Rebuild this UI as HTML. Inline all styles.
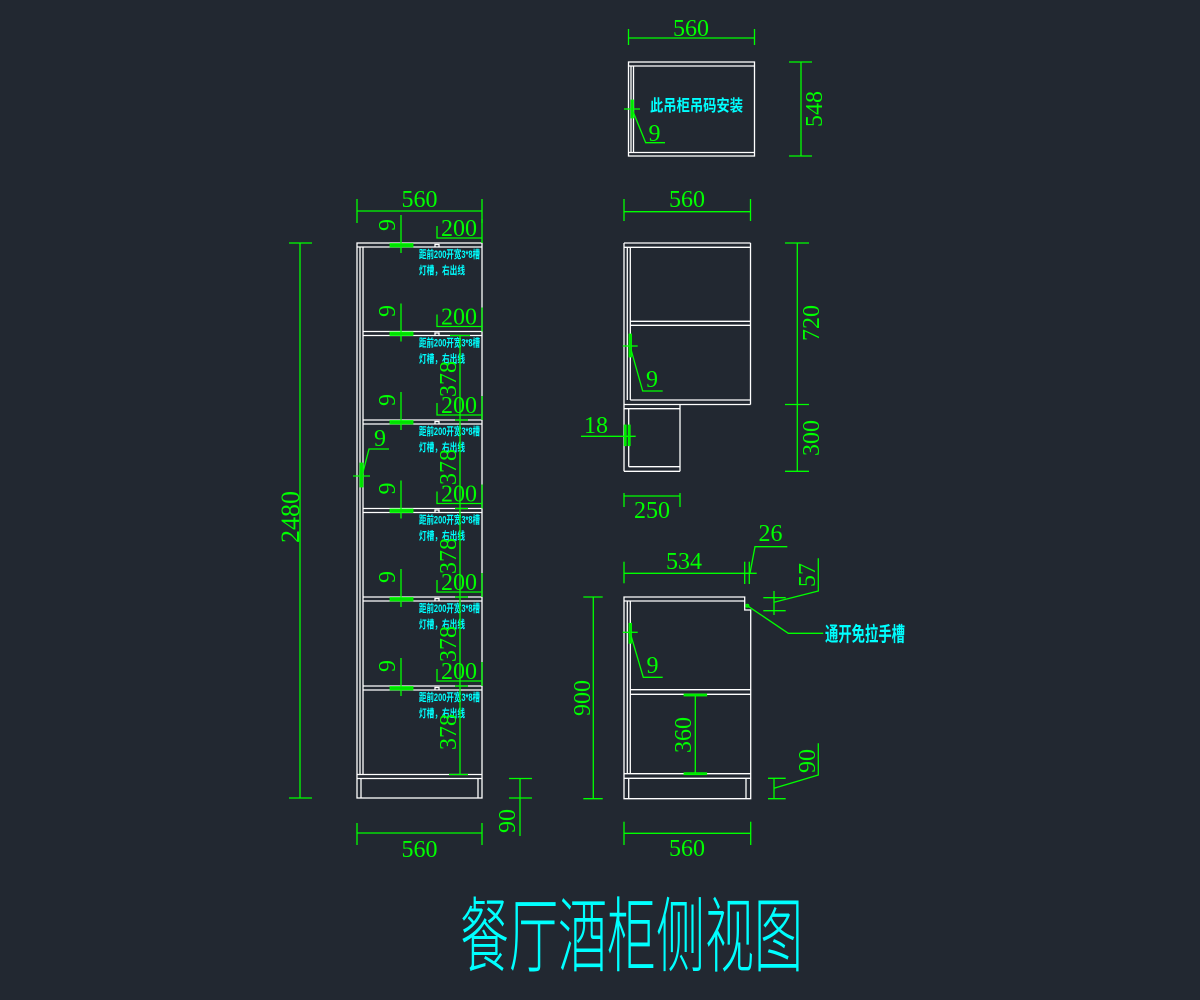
<!DOCTYPE html>
<html><head><meta charset="utf-8"><style>
html,body{margin:0;padding:0;background:#222831;}
svg{display:block;}
.w{stroke:#ffffff;stroke-width:1.3;fill:none;}
.g{stroke:#00ff00;stroke-width:1.3;fill:none;}
.gf{fill:#00e000;stroke:#00ff00;stroke-width:0.8;}
.t{font-family:"Liberation Serif",serif;font-size:24px;fill:#00ff00;}
.c{font-family:"Liberation Sans","Noto Sans CJK SC",sans-serif;font-weight:bold;fill:#00ffff;}
</style></head><body>
<svg width="1200" height="1000" viewBox="0 0 1200 1000" xmlns="http://www.w3.org/2000/svg">
<rect width="1200" height="1000" fill="#222831"/>

<!-- ============ LEFT TALL CABINET ============ -->
<g class="w">
<rect x="357" y="243" width="125" height="555"/>
<line x1="357" y1="247" x2="482" y2="247"/>
<line x1="360" y1="247" x2="360" y2="774.5"/>
<line x1="363" y1="247" x2="363" y2="774.5"/>
<line x1="363" y1="331.5" x2="482" y2="331.5"/><line x1="363" y1="335.5" x2="482" y2="335.5"/>
<line x1="363" y1="420" x2="482" y2="420"/><line x1="363" y1="424" x2="482" y2="424"/>
<line x1="363" y1="508.5" x2="482" y2="508.5"/><line x1="363" y1="512.5" x2="482" y2="512.5"/>
<line x1="363" y1="597" x2="482" y2="597"/><line x1="363" y1="601" x2="482" y2="601"/>
<line x1="363" y1="686" x2="482" y2="686"/><line x1="363" y1="690" x2="482" y2="690"/>
<line x1="357" y1="774.5" x2="482" y2="774.5"/><line x1="357" y1="778.5" x2="482" y2="778.5"/>
<line x1="361" y1="778.5" x2="361" y2="798"/><line x1="478" y1="778.5" x2="478" y2="798"/>
<path d="M435 247 v-2.5 h4 v2.5"/>
<path d="M435 335.5 v-2.5 h4 v2.5"/>
<path d="M435 424 v-2.5 h4 v2.5"/>
<path d="M435 512.5 v-2.5 h4 v2.5"/>
<path d="M435 601 v-2.5 h4 v2.5"/>
<path d="M435 690 v-2.5 h4 v2.5"/>
</g>

<!-- annotations in cabinet -->
<g class="c" font-size="11">
<text x="419" y="258" textLength="61" lengthAdjust="spacingAndGlyphs">距前200开宽3*8槽</text>
<text x="419" y="274" textLength="46" lengthAdjust="spacingAndGlyphs">灯槽，右出线</text>
<text x="419" y="346.5" textLength="61" lengthAdjust="spacingAndGlyphs">距前200开宽3*8槽</text>
<text x="419" y="362.5" textLength="46" lengthAdjust="spacingAndGlyphs">灯槽，右出线</text>
<text x="419" y="435" textLength="61" lengthAdjust="spacingAndGlyphs">距前200开宽3*8槽</text>
<text x="419" y="451" textLength="46" lengthAdjust="spacingAndGlyphs">灯槽，右出线</text>
<text x="419" y="523.5" textLength="61" lengthAdjust="spacingAndGlyphs">距前200开宽3*8槽</text>
<text x="419" y="539.5" textLength="46" lengthAdjust="spacingAndGlyphs">灯槽，右出线</text>
<text x="419" y="612" textLength="61" lengthAdjust="spacingAndGlyphs">距前200开宽3*8槽</text>
<text x="419" y="628" textLength="46" lengthAdjust="spacingAndGlyphs">灯槽，右出线</text>
<text x="419" y="701" textLength="61" lengthAdjust="spacingAndGlyphs">距前200开宽3*8槽</text>
<text x="419" y="717" textLength="46" lengthAdjust="spacingAndGlyphs">灯槽，右出线</text>
</g>

<!-- left green dims -->
<g class="g">
<line x1="357" y1="211" x2="482" y2="211"/>
<line x1="357" y1="199" x2="357" y2="223"/><line x1="482" y1="199" x2="482" y2="223"/>
<!-- 9 verticals -->
<line x1="401" y1="215" x2="401" y2="253"/>
<line x1="401" y1="303.5" x2="401" y2="341.5"/>
<line x1="401" y1="392" x2="401" y2="430"/>
<line x1="401" y1="480.5" x2="401" y2="518.5"/>
<line x1="401" y1="569" x2="401" y2="607"/>
<line x1="401" y1="658" x2="401" y2="696"/>
<!-- 200 brackets -->
<path d="M437 226 V238 H482 M482 219 V243"/>
<path d="M437 314.5 V326.5 H482 M482 307.5 V331.5"/>
<path d="M437 403 V415 H482 M482 396 V420"/>
<path d="M437 491.5 V503.5 H482 M482 484.5 V508.5"/>
<path d="M437 580 V592 H482 M482 573 V597"/>
<path d="M437 669 V681 H482 M482 662 V686"/>
<!-- 378 -->
<line x1="460" y1="335.5" x2="460" y2="774.5"/>
<line x1="450" y1="335.5" x2="470" y2="335.5"/>
<line x1="455" y1="420" x2="468" y2="420"/>
<line x1="455" y1="508.5" x2="468" y2="508.5"/>
<line x1="455" y1="597" x2="468" y2="597"/>
<line x1="455" y1="686" x2="468" y2="686"/>
<line x1="449" y1="774.5" x2="468" y2="774.5"/>
<!-- 2480 -->
<line x1="300" y1="243" x2="300" y2="798"/>
<line x1="289" y1="243" x2="312" y2="243"/><line x1="289" y1="798" x2="312" y2="798"/>
<!-- 90 -->
<line x1="520" y1="778.5" x2="520" y2="836"/>
<line x1="509" y1="778.5" x2="532" y2="778.5"/><line x1="509" y1="798" x2="532" y2="798"/>
<!-- 560 bottom -->
<line x1="357" y1="833" x2="482" y2="833"/>
<line x1="357" y1="823" x2="357" y2="845"/><line x1="482" y1="823" x2="482" y2="845"/>
<!-- 9 leader -->
<line x1="353" y1="476" x2="370" y2="476"/>
<path d="M362 476 L369 449 H389"/>
</g>
<g class="gf">
<rect x="390" y="243.5" width="23" height="3.5"/>
<rect x="390" y="332" width="23" height="3.5"/>
<rect x="390" y="420.5" width="23" height="3.5"/>
<rect x="390" y="509" width="23" height="3.5"/>
<rect x="390" y="597.5" width="23" height="3.5"/>
<rect x="390" y="686.5" width="23" height="3.5"/>
<rect x="360" y="463" width="3" height="24"/>
</g>
<g class="t">
<text x="419.5" y="207" text-anchor="middle">560</text>
<text x="419.5" y="857" text-anchor="middle">560</text>
<text x="459" y="236" text-anchor="middle">200</text>
<text x="459" y="324.5" text-anchor="middle">200</text>
<text x="459" y="413" text-anchor="middle">200</text>
<text x="459" y="501.5" text-anchor="middle">200</text>
<text x="459" y="590" text-anchor="middle">200</text>
<text x="459" y="679" text-anchor="middle">200</text>
<text text-anchor="middle" transform="translate(395,225) rotate(-90)">9</text>
<text text-anchor="middle" transform="translate(395,311) rotate(-90)">9</text>
<text text-anchor="middle" transform="translate(395,400) rotate(-90)">9</text>
<text text-anchor="middle" transform="translate(395,488.5) rotate(-90)">9</text>
<text text-anchor="middle" transform="translate(395,577) rotate(-90)">9</text>
<text text-anchor="middle" transform="translate(395,666) rotate(-90)">9</text>
<text text-anchor="middle" transform="translate(456,379) rotate(-90)">378</text>
<text text-anchor="middle" transform="translate(456,467) rotate(-90)">378</text>
<text text-anchor="middle" transform="translate(456,556) rotate(-90)">378</text>
<text text-anchor="middle" transform="translate(456,644) rotate(-90)">378</text>
<text text-anchor="middle" transform="translate(456,732) rotate(-90)">378</text>
<text text-anchor="middle" font-size="26" transform="translate(299,517) rotate(-90)">2480</text>
<text text-anchor="middle" transform="translate(515,821) rotate(-90)">90</text>
<text x="380" y="446" text-anchor="middle">9</text>
</g>

<!-- ============ WALL CABINET (TOP RIGHT) ============ -->
<g class="w">
<rect x="628.5" y="62" width="126" height="94"/>
<line x1="628.5" y1="66" x2="754.5" y2="66"/>
<line x1="628.5" y1="152.5" x2="754.5" y2="152.5"/>
<line x1="631" y1="66" x2="631" y2="152.5"/>
<line x1="633.5" y1="66" x2="633.5" y2="152.5"/>
</g>
<text class="c" x="650" y="111" font-size="16" textLength="93" lengthAdjust="spacingAndGlyphs">此吊柜吊码安装</text>
<g class="g">
<line x1="628.5" y1="38" x2="754.5" y2="38"/>
<line x1="628.5" y1="29" x2="628.5" y2="45"/><line x1="754.5" y1="29" x2="754.5" y2="45"/>
<line x1="801" y1="62" x2="801" y2="156"/>
<line x1="789" y1="62" x2="812" y2="62"/><line x1="789" y1="156" x2="812" y2="156"/>
<line x1="624" y1="109" x2="640" y2="109"/>
<path d="M632 109 L645.7 142.7 H665"/>
</g>
<rect class="gf" x="631" y="100" width="2.5" height="18"/>
<g class="t">
<text x="691" y="36" text-anchor="middle">560</text>
<text text-anchor="middle" transform="translate(822,109) rotate(-90)">548</text>
<text x="654.5" y="141" text-anchor="middle">9</text>
</g>

<!-- ============ MIDDLE RIGHT CABINET ============ -->
<g class="w">
<line x1="624" y1="243" x2="750.5" y2="243"/>
<line x1="624" y1="247.3" x2="750.5" y2="247.3"/>
<line x1="750.5" y1="243" x2="750.5" y2="404.5"/>
<line x1="624" y1="243" x2="624" y2="471.3"/>
<line x1="627.3" y1="247.3" x2="627.3" y2="400"/>
<line x1="630.3" y1="247.3" x2="630.3" y2="400"/>
<line x1="630.3" y1="321.3" x2="750.5" y2="321.3"/>
<line x1="630.3" y1="325.3" x2="750.5" y2="325.3"/>
<line x1="630.3" y1="400" x2="750.5" y2="400"/>
<line x1="624" y1="404.5" x2="750.5" y2="404.5"/>
<line x1="624" y1="408.7" x2="680" y2="408.7"/>
<line x1="680" y1="404.5" x2="680" y2="471.3"/>
<line x1="628.7" y1="408.7" x2="628.7" y2="466.7"/>
<line x1="628.7" y1="466.7" x2="680" y2="466.7"/>
<line x1="624" y1="471.3" x2="680" y2="471.3"/>
</g>
<g class="g">
<line x1="624" y1="211.7" x2="750.5" y2="211.7"/>
<line x1="624" y1="199" x2="624" y2="221"/><line x1="750.5" y1="199" x2="750.5" y2="221"/>
<line x1="797.3" y1="243" x2="797.3" y2="471.3"/>
<line x1="785" y1="243" x2="809" y2="243"/>
<line x1="785" y1="404.5" x2="809" y2="404.5"/>
<line x1="785" y1="471.3" x2="809" y2="471.3"/>
<line x1="622.7" y1="346" x2="637.7" y2="346"/>
<path d="M630 346 L642.7 391 H662.7"/>
<line x1="581" y1="436.3" x2="635.7" y2="436.3"/>
<line x1="624" y1="496" x2="680" y2="496"/>
<line x1="624" y1="493" x2="624" y2="507"/><line x1="680" y1="493" x2="680" y2="507"/>
</g>
<g class="gf">
<rect x="629" y="334" width="2.5" height="23"/>
<rect x="624.2" y="425" width="2" height="20.7"/>
<rect x="628.2" y="425" width="2" height="20.7"/>
</g>
<g class="t">
<text x="687" y="207" text-anchor="middle">560</text>
<text text-anchor="middle" transform="translate(819,323) rotate(-90)">720</text>
<text text-anchor="middle" transform="translate(819,438) rotate(-90)">300</text>
<text x="652" y="387" text-anchor="middle">9</text>
<text x="596" y="433" text-anchor="middle">18</text>
<text x="652" y="518" text-anchor="middle">250</text>
</g>

<!-- ============ BOTTOM RIGHT CABINET ============ -->
<g class="w">
<path d="M624 597 H744.7 V610 H750.7 V798.7 H624 Z"/>
<line x1="624" y1="601" x2="744.7" y2="601"/>
<line x1="627.3" y1="601" x2="627.3" y2="773.7"/>
<line x1="630.3" y1="601" x2="630.3" y2="773.7"/>
<line x1="630.3" y1="689.7" x2="750.7" y2="689.7"/>
<line x1="630.3" y1="694.3" x2="750.7" y2="694.3"/>
<line x1="624" y1="773.7" x2="750.7" y2="773.7"/>
<line x1="624" y1="778.3" x2="750.7" y2="778.3"/>
<line x1="628.7" y1="778.3" x2="628.7" y2="798.7"/>
<line x1="746" y1="778.3" x2="746" y2="798.7"/>
</g>
<g class="g">
<line x1="593.3" y1="597" x2="593.3" y2="798.7"/>
<line x1="583.3" y1="597" x2="602.7" y2="597"/><line x1="583.3" y1="798.7" x2="602.7" y2="798.7"/>
<line x1="624" y1="573.3" x2="756.7" y2="573.3"/>
<line x1="624" y1="561.7" x2="624" y2="583.3"/>
<line x1="744.7" y1="561.7" x2="744.7" y2="584"/>
<line x1="749.3" y1="561.7" x2="749.3" y2="584"/>
<path d="M750 573 L755 546.7 H787.3"/>
<line x1="774" y1="591" x2="774" y2="615"/>
<line x1="763.3" y1="597.7" x2="785.7" y2="597.7"/>
<line x1="763.3" y1="610.7" x2="785.7" y2="610.7"/>
<path d="M774 602.3 L818.3 591 V558.3"/>
<path d="M747.3 605.7 L788.3 633.3 H823.3"/>
<line x1="695.3" y1="695" x2="695.3" y2="773.7"/>
<line x1="774" y1="778.3" x2="774" y2="799"/>
<line x1="768" y1="778.3" x2="785.7" y2="778.3"/>
<line x1="768" y1="798.7" x2="785.7" y2="798.7"/>
<path d="M774 788.3 L818.3 775 V743.3"/>
<line x1="624" y1="833.3" x2="750.7" y2="833.3"/>
<line x1="624" y1="821.7" x2="624" y2="845"/><line x1="750.7" y1="821.7" x2="750.7" y2="845"/>
<line x1="622.7" y1="632.3" x2="637.7" y2="632.3"/>
<path d="M630 632.3 L643.3 677.3 H662.7"/>
</g>
<g class="gf">
<circle cx="747.3" cy="605.7" r="1.6"/>
<rect x="684" y="694" width="22.7" height="2"/>
<rect x="684" y="772.7" width="22.7" height="2"/>
<rect x="629" y="623.3" width="2.5" height="20"/>
</g>
<text class="c" x="825" y="641" font-size="20" textLength="80" lengthAdjust="spacingAndGlyphs">通开免拉手槽</text>
<g class="t">
<text text-anchor="middle" transform="translate(590,698) rotate(-90)">900</text>
<text x="684" y="569" text-anchor="middle">534</text>
<text x="770.5" y="541" text-anchor="middle">26</text>
<text text-anchor="middle" transform="translate(815,575) rotate(-90)">57</text>
<text text-anchor="middle" transform="translate(691,735) rotate(-90)">360</text>
<text text-anchor="middle" transform="translate(815,761) rotate(-90)">90</text>
<text x="687" y="856" text-anchor="middle">560</text>
<text x="652.5" y="673" text-anchor="middle">9</text>
</g>

<!-- Title -->
<text x="460" y="965" font-family="'Liberation Sans','Noto Sans CJK SC',sans-serif" font-size="82" font-weight="300" fill="#00ffff" textLength="343" lengthAdjust="spacingAndGlyphs">餐厅酒柜侧视图</text>
</svg>
</body></html>
